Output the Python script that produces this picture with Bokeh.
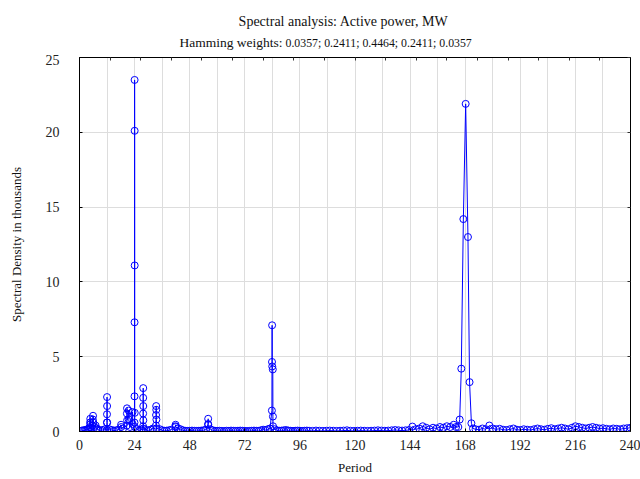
from bokeh.plotting import figure
from bokeh.layouts import column
from bokeh.models import Range1d, LinearAxis, FixedTicker, Label
from bokeh.embed import file_html
from bokeh.resources import INLINE

# ---- texts ----
title_text = "Spectral analysis: Active power, MW"
subtitle_head = "Hamming weights:"
subtitle_weights = "0.0357; 0.2411; 0.4464; 0.2411; 0.0357"

# ---- tick / grid values ----
x_ticks = [0, 24, 48, 72, 96, 120, 144, 168, 192, 216, 240]
x_grid = [0, 12, 24, 36, 48, 60, 72, 84, 96, 108, 120, 132, 144, 156, 168,
          180, 192, 204, 216, 228, 240]
y_ticks = [0, 5, 10, 15, 20, 25]
top_ticks = [0, 13.33, 26.67, 40, 53.33, 66.67, 80, 93.33, 106.67, 120,
             133.33, 146.67, 160, 173.33, 186.67, 200, 213.33, 226.67, 240]

# ---- background spectrum (period, spectral density in thousands) ----
base_a_period = [1.0, 1.5, 2.0, 2.5, 3.0, 3.5, 4.0, 5.0, 6.5, 7.0,
                 7.5, 8.0, 9.0, 10.0, 11.0, 13.0, 14.0, 15.0, 16.0, 17.0,
                 19.0, 22.0, 25.0, 26.0, 27.0, 29.0, 30.0, 31.0, 32.0, 35.0,
                 36.0, 37.0, 38.0, 39.0, 40.0, 43.0, 44.0, 45.0, 46.0, 47.0]
base_a_density = [0.05, 0.08, 0.06, 0.10, 0.12, 0.15, 0.20, 0.25, 0.30, 0.40,
                  0.20, 0.12, 0.08, 0.10, 0.15, 0.15, 0.10, 0.06, 0.08, 0.12,
                  0.20, 0.30, 0.15, 0.08, 0.12, 0.10, 0.08, 0.12, 0.20, 0.15,
                  0.08, 0.05, 0.06, 0.08, 0.12, 0.20, 0.15, 0.08, 0.05, 0.04]

base_b_period = [48.0, 49.0, 50.0, 51.0, 52.0, 53.0, 54.0, 55.0, 57.0, 58.0,
                 59.0, 60.0, 61.0, 62.0, 63.0, 64.0, 65.0, 66.0, 67.0, 68.0,
                 69.0, 70.0, 71.0, 72.0, 73.0, 74.0, 75.0, 76.0, 77.0, 78.0,
                 79.0, 80.0, 81.0, 82.0, 83.0, 85.0, 86.0, 87.0, 88.0, 89.0,
                 90.0, 91.0, 92.0, 93.0, 94.0, 95.0, 96.0, 97.0, 98.0, 99.0]
base_b_density = [0.05, 0.06, 0.05, 0.04, 0.05, 0.06, 0.08, 0.12, 0.15, 0.08,
                  0.05, 0.04, 0.05, 0.04, 0.03, 0.05, 0.04, 0.06, 0.05, 0.04,
                  0.05, 0.06, 0.05, 0.04, 0.03, 0.04, 0.05, 0.06, 0.05, 0.04,
                  0.08, 0.12, 0.10, 0.15, 0.20, 0.15, 0.08, 0.05, 0.06, 0.08,
                  0.10, 0.06, 0.05, 0.04, 0.05, 0.06, 0.05, 0.04, 0.05, 0.06]

base_c_period = [100.0, 101.5, 103.0, 104.5, 106.0, 107.5, 109.0, 110.5, 112.0, 113.5,
                 115.0, 116.5, 118.0, 119.5, 121.0, 122.5, 124.0, 125.5, 127.0, 128.5,
                 130.0, 131.5, 133.0, 134.5, 136.0, 137.5, 139.0, 140.5, 142.0, 143.5,
                 145.0, 146.5, 148.0, 149.5, 151.0, 152.5, 154.0, 155.5, 157.0, 158.5,
                 160.0, 161.5, 163.0, 164.0]
base_c_density = [0.05, 0.04, 0.06, 0.05, 0.04, 0.05, 0.06, 0.05, 0.04, 0.05,
                  0.06, 0.08, 0.05, 0.04, 0.05, 0.06, 0.05, 0.04, 0.05, 0.06,
                  0.08, 0.06, 0.05, 0.06, 0.08, 0.10, 0.08, 0.06, 0.08, 0.10,
                  0.33, 0.15, 0.20, 0.35, 0.25, 0.15, 0.25, 0.20, 0.30, 0.25,
                  0.35, 0.30, 0.45, 0.30]

base_d_period = [172.5, 174.0, 175.5, 177.0, 178.5, 180.0, 181.5, 183.0, 184.5, 186.0,
                 187.5, 189.0, 190.5, 192.0, 193.5, 195.0, 196.5, 198.0, 199.5, 201.0,
                 202.5, 204.0, 205.5, 207.0, 208.5, 210.0, 211.5, 213.0, 214.5, 216.0,
                 217.5, 219.0, 220.5, 222.0, 223.5, 225.0, 226.5, 228.0, 229.5, 231.0,
                 232.5, 234.0, 235.5, 237.0, 238.5, 240.0]
base_d_density = [0.15, 0.12, 0.20, 0.15, 0.40, 0.20, 0.15, 0.18, 0.12, 0.10,
                  0.15, 0.20, 0.12, 0.10, 0.15, 0.12, 0.10, 0.15, 0.20, 0.15,
                  0.12, 0.18, 0.22, 0.15, 0.20, 0.25, 0.20, 0.15, 0.25, 0.35,
                  0.30, 0.25, 0.20, 0.25, 0.30, 0.25, 0.20, 0.22, 0.18, 0.15,
                  0.20, 0.18, 0.15, 0.20, 0.22, 0.25]

# ---- spectral peaks (stacks of neighbouring frequencies) ----
peak_low_period = [4.5, 4.6, 4.7, 4.8, 5.6, 5.8, 5.9, 6.0]
peak_low_density = [0.3, 0.6, 0.85, 0.5, 0.4, 0.8, 1.05, 0.6]

peak12_period = [11.94, 11.96, 11.98, 12.0, 12.02, 12.04, 12.06]
peak12_density = [0.1, 0.6, 1.15, 2.3, 1.7, 0.6, 0.1]

peak20_period = [18.1, 18.2, 20.6, 20.65, 20.7, 20.75, 21.4, 21.45]
peak20_density = [0.45, 0.3, 0.4, 1.2, 1.55, 0.75, 1.4, 0.8]

peak24_period = [23.1, 23.15, 23.94, 23.96, 23.98, 24.0, 24.02, 24.04, 24.06, 24.08]
peak24_density = [1.3, 0.5, 0.6, 2.35, 7.3, 23.5, 20.1, 11.1, 1.25, 0.3]

peak28_period = [27.7, 27.72, 27.74, 27.76, 27.78, 27.8, 27.82]
peak28_density = [0.35, 1.2, 2.25, 2.9, 1.7, 0.75, 0.2]

peak33_period = [33.3, 33.35, 33.4, 33.45, 33.5, 33.55]
peak33_density = [0.4, 1.1, 1.7, 1.45, 0.8, 0.2]

peak42_period = [41.8, 41.85, 41.9]
peak42_density = [0.35, 0.45, 0.3]

peak56_period = [56.0, 56.05, 56.1]
peak56_density = [0.5, 0.85, 0.45]

peak84_period = [83.8, 83.85, 83.9, 83.95, 84.2, 84.25, 84.3]
peak84_density = [1.4, 4.65, 7.1, 4.35, 4.15, 1.0, 0.35]

peak168_period = [165.0, 165.6, 166.3, 167.2, 168.2, 169.2, 169.9, 170.7, 171.4]
peak168_density = [0.3, 0.8, 4.2, 14.2, 21.9, 13.0, 3.3, 0.55, 0.2]

pairs = [(base_a_period, base_a_density), (base_b_period, base_b_density),
         (base_c_period, base_c_density), (base_d_period, base_d_density),
         (peak_low_period, peak_low_density), (peak12_period, peak12_density),
         (peak20_period, peak20_density), (peak24_period, peak24_density),
         (peak28_period, peak28_density), (peak33_period, peak33_density),
         (peak42_period, peak42_density), (peak56_period, peak56_density),
         (peak84_period, peak84_density), (peak168_period, peak168_density)]
points = []
for ps, ds in pairs:
    assert len(ps) == len(ds)
    points.extend(zip(ps, ds))
points.sort(key=lambda t: t[0])
period = [t[0] for t in points]
density = [t[1] for t in points]

FONT = "Liberation Serif"
BLUE = "#0000ff"
TXT = "#111111"
HEAD_H = 54
FRAME_L, FRAME_R = 79, 630   # header frame is aligned with the chart frame

# ---- header with titles (x in page pixels) ----
head = figure(width=640, height=HEAD_H, output_backend="svg", toolbar_location=None,
              x_range=Range1d(FRAME_L, FRAME_R), y_range=Range1d(0, HEAD_H),
              x_axis_location=None, y_axis_location=None)
head.min_border = 0
head.min_border_left = 0
head.min_border_right = 0
head.min_border_top = 0
head.min_border_bottom = 0
head.grid.visible = False
head.outline_line_color = None
head.add_layout(Label(x=343, y=HEAD_H - 21.0, text=title_text, text_align="center",
                      text_baseline="alphabetic", text_font=FONT,
                      text_font_size="14px", text_color=TXT))
head.add_layout(Label(x=282, y=HEAD_H - 42.3, text=subtitle_head, text_align="right",
                      text_baseline="alphabetic", text_font=FONT,
                      text_font_size="13.5px", text_color=TXT))
head.add_layout(Label(x=285, y=HEAD_H - 42.3, text=subtitle_weights, text_align="left",
                      text_baseline="alphabetic", text_font=FONT,
                      text_font_size="11.8px", text_color=TXT))

# ---- main chart ----
p = figure(width=640, height=479 - HEAD_H, output_backend="svg", toolbar_location=None,
           x_range=Range1d(0, 240), y_range=Range1d(0, 25))
p.min_border_left = FRAME_L
p.min_border_right = 640 - FRAME_R
p.min_border_top = 57 - HEAD_H
p.min_border_bottom = 48
p.background_fill_color = "white"
p.border_fill_color = "white"
p.outline_line_color = "black"
p.outline_line_width = 1

p.line(period, density, line_color=BLUE, line_width=1)
p.scatter(period, density, marker="circle", size=7, fill_color=None,
          line_color=BLUE, line_width=1)

for ax in (p.xaxis[0], p.yaxis[0]):
    ax.axis_line_color = "black"
    ax.major_tick_in = 3
    ax.major_tick_out = 0
    ax.minor_tick_line_color = None
    ax.major_label_text_font = FONT
    ax.major_label_text_font_size = "14px"
    ax.major_label_text_color = "#222222"
    ax.axis_label_text_font = FONT
    ax.axis_label_text_font_size = "13px"
    ax.axis_label_text_font_style = "normal"
    ax.axis_label_text_color = TXT

p.xaxis[0].ticker = FixedTicker(ticks=x_ticks)
p.xaxis[0].axis_label = "Period"
p.xaxis[0].major_label_standoff = 8
p.xaxis[0].axis_label_standoff = 7

p.yaxis[0].ticker = FixedTicker(ticks=y_ticks)
p.yaxis[0].axis_label = "Spectral Density in thousands"
p.yaxis[0].major_label_standoff = 20
p.yaxis[0].axis_label_standoff = 19

top = LinearAxis(ticker=FixedTicker(ticks=top_ticks), major_label_text_font_size="0px",
                 major_tick_in=3, major_tick_out=0, minor_tick_line_color=None,
                 axis_line_color="black", major_tick_line_color="#333333",
                 major_label_standoff=0)
top.major_label_text_color = None
p.add_layout(top, "above")
right = LinearAxis(ticker=FixedTicker(ticks=y_ticks), major_label_text_font_size="0px",
                   major_tick_in=3, major_tick_out=0, minor_tick_line_color=None,
                   axis_line_color="black", major_tick_line_color="#333333",
                   major_label_standoff=0)
right.major_label_text_color = None
p.add_layout(right, "right")

p.xgrid.ticker = FixedTicker(ticks=x_grid)
p.ygrid.ticker = FixedTicker(ticks=y_ticks)
p.xgrid.grid_line_color = "#dddddd"
p.ygrid.grid_line_color = "#dddddd"

layout = column(head, p, spacing=0)
open("out.html", "w").write(file_html(layout, INLINE))
